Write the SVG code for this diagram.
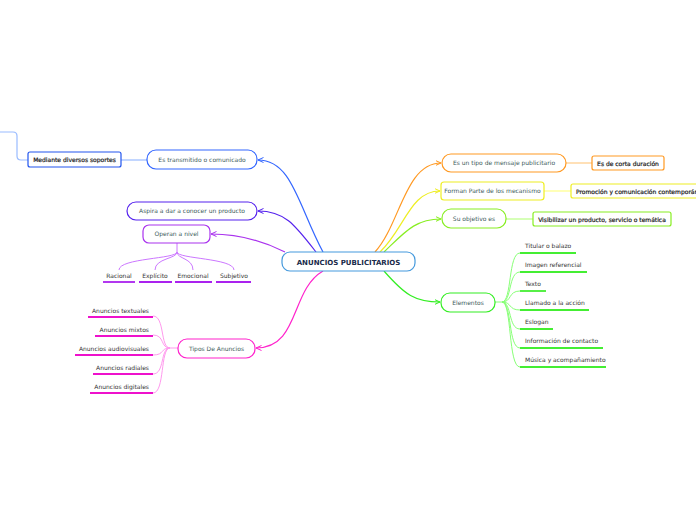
<svg xmlns="http://www.w3.org/2000/svg" width="696" height="520" viewBox="0 0 696 520">
<style>
text{font-family:"DejaVu Sans","Liberation Sans",sans-serif;font-size:6px;}
.nt{fill:#3d5b5b;text-anchor:middle;}
.ct{fill:#333;}
.bt{fill:#1a1a1a;stroke:#1a1a1a;stroke-width:0.2;text-anchor:middle;font-size:6px;}
.node{fill:#fff;stroke-width:1.2;}
.c{fill:none;stroke-width:1.2;}
.u{stroke-width:1.8;fill:none;}
</style>
<defs>
<marker id="aBlue" viewBox="0 0 6 6" refX="5.5" refY="3" markerWidth="6" markerHeight="6" markerUnits="userSpaceOnUse" orient="auto"><path d="M0,0.5 L5.5,3 L0,5.5" fill="none" stroke="#3366ff" stroke-width="1"/></marker>
<marker id="aIndigo" viewBox="0 0 6 6" refX="5.5" refY="3" markerWidth="6" markerHeight="6" markerUnits="userSpaceOnUse" orient="auto"><path d="M0,0.5 L5.5,3 L0,5.5" fill="none" stroke="#5522ee" stroke-width="1"/></marker>
<marker id="aPurple" viewBox="0 0 6 6" refX="5.5" refY="3" markerWidth="6" markerHeight="6" markerUnits="userSpaceOnUse" orient="auto"><path d="M0,0.5 L5.5,3 L0,5.5" fill="none" stroke="#aa33ee" stroke-width="1"/></marker>
<marker id="aMag" viewBox="0 0 6 6" refX="5.5" refY="3" markerWidth="6" markerHeight="6" markerUnits="userSpaceOnUse" orient="auto"><path d="M0,0.5 L5.5,3 L0,5.5" fill="none" stroke="#ff22cc" stroke-width="1"/></marker>
<marker id="aOrange" viewBox="0 0 6 6" refX="5.5" refY="3" markerWidth="6" markerHeight="6" markerUnits="userSpaceOnUse" orient="auto"><path d="M0,0.5 L5.5,3 L0,5.5" fill="none" stroke="#ff9922" stroke-width="1"/></marker>
<marker id="aYellow" viewBox="0 0 6 6" refX="5.5" refY="3" markerWidth="6" markerHeight="6" markerUnits="userSpaceOnUse" orient="auto"><path d="M0,0.5 L5.5,3 L0,5.5" fill="none" stroke="#eeee22" stroke-width="1"/></marker>
<marker id="aLime" viewBox="0 0 6 6" refX="5.5" refY="3" markerWidth="6" markerHeight="6" markerUnits="userSpaceOnUse" orient="auto"><path d="M0,0.5 L5.5,3 L0,5.5" fill="none" stroke="#88ee22" stroke-width="1"/></marker>
<marker id="aGreen" viewBox="0 0 6 6" refX="5.5" refY="3" markerWidth="6" markerHeight="6" markerUnits="userSpaceOnUse" orient="auto"><path d="M0,0.5 L5.5,3 L0,5.5" fill="none" stroke="#33ee22" stroke-width="1"/></marker>
</defs>

<g id="connectors">
<path class="c" stroke="#3366ff" d="M323,252 C298,205 292,160 258,160" marker-end="url(#aBlue)"/>
<path class="c" stroke="#5522ee" d="M316,252 C295,225 285,211 258,211" marker-end="url(#aIndigo)"/>
<path class="c" stroke="#aa33ee" d="M285,252 C265,242 240,234 211,234" marker-end="url(#aPurple)"/>
<path class="c" stroke="#ff22cc" d="M323,271 C290,290 300,348 256,348" marker-end="url(#aMag)"/>
<path class="c" stroke="#ff9922" d="M375,252 C400,225 405,163 441,163" marker-end="url(#aOrange)"/>
<path class="c" stroke="#eeee22" d="M380,252 C405,228 410,191 440,191" marker-end="url(#aYellow)"/>
<path class="c" stroke="#88ee22" d="M384,252 C405,232 415,219 441,219" marker-end="url(#aLime)"/>
<path class="c" stroke="#33ee22" d="M384,271 C405,295 415,302 440,302" marker-end="url(#aGreen)"/>
<path class="c" stroke="#99bbff" d="M121,160 L147,160"/>
<path class="c" stroke="#99bbff" d="M28,160 L21,160 Q17,160 17,156 L17,136 Q17,132 13,132 L0,132"/>
<path class="c" stroke="#ffcc88" d="M566,163 L592,163"/>
<path class="c" stroke="#ffff88" d="M544,191 L571,191"/>
<path class="c" stroke="#bbff88" d="M506,219 L533,219"/>
<g stroke="#cc77ff" fill="none" stroke-width="1">
<path d="M177,243 L177,252"/>
<path d="M177,252 C177,259 119,258 119,270"/>
<path d="M177,252 C177,259 155,258 155,270"/>
<path d="M177,252 C177,259 193,258 193,270"/>
<path d="M177,252 C177,259 234,258 234,270"/>
</g>
<g stroke="#ff99ee" fill="none" stroke-width="1">
<path d="M178,348 L170,348"/>
<path d="M170,348 C160,348 165,316 153,316"/>
<path d="M170,348 C160,348 165,335 153,335"/>
<path d="M170,348 C160,348 165,355 153,355"/>
<path d="M170,348 C160,348 165,374 153,374"/>
<path d="M170,348 C160,348 165,393 153,393"/>
</g>
<g stroke="#88ff77" fill="none" stroke-width="1">
<path d="M495,302 L502,302"/>
<path d="M502,302 C512,302 508,253 520,253"/>
<path d="M502,302 C512,302 508,272 520,272"/>
<path d="M502,302 C512,302 508,291 520,291"/>
<path d="M502,302 C512,302 508,310 520,310"/>
<path d="M502,302 C512,302 508,329 520,329"/>
<path d="M502,302 C512,302 508,348 520,348"/>
<path d="M502,302 C512,302 508,367 520,367"/>
</g>
</g>

<g id="center">
<rect class="node" x="282" y="252" width="133" height="19" rx="8" stroke="#4499dd"/>
<text x="348.5" y="264.5" style="font-size:7px;font-weight:bold;fill:#1a2a4a;text-anchor:middle">ANUNCIOS PUBLICITARIOS</text>
</g>

<g id="transmitido">
<rect class="node" x="147" y="150" width="110" height="19" rx="9" stroke="#3366ff"/>
<text class="nt" x="202" y="161.5">Es transmitido o comunicado</text>
</g>
<g id="mediante">
<rect class="node" x="28" y="152" width="93" height="15" rx="2" stroke="#2255ee" stroke-width="2"/>
<text class="bt" x="74.5" y="162">Mediante diversos soportes</text>
</g>
<g id="aspira">
<rect class="node" x="127" y="202" width="130" height="18" rx="9" stroke="#5522ee"/>
<text class="nt" x="192" y="213">Aspira a dar a conocer un producto</text>
</g>
<g id="operan">
<rect class="node" x="143" y="225" width="67" height="18" rx="6" stroke="#aa33ee"/>
<text class="nt" x="176.5" y="236">Operan a nivel</text>
</g>
<g id="racional"><text class="ct" x="119" y="278" text-anchor="middle">Racional</text><line class="u" x1="103" y1="282" x2="135" y2="282" stroke="#aa22ee"/></g>
<g id="explicito"><text class="ct" x="155" y="278" text-anchor="middle">Explícito</text><line class="u" x1="139" y1="282" x2="172" y2="282" stroke="#aa22ee"/></g>
<g id="emocional"><text class="ct" x="193" y="278" text-anchor="middle">Emocional</text><line class="u" x1="175" y1="282" x2="212" y2="282" stroke="#aa22ee"/></g>
<g id="subjetivo"><text class="ct" x="234" y="278" text-anchor="middle">Subjetivo</text><line class="u" x1="216" y1="282" x2="251" y2="282" stroke="#aa22ee"/></g>

<g id="tipos">
<rect class="node" x="178" y="339" width="77" height="19" rx="9" stroke="#ff22cc"/>
<text class="nt" x="216.5" y="350.5">Tipos De Anuncios</text>
</g>
<g id="textuales"><text class="ct" x="149" y="313" text-anchor="end">Anuncios textuales</text><line class="u" x1="88" y1="317" x2="153" y2="317" stroke="#ee11cc"/></g>
<g id="mixtos"><text class="ct" x="149" y="332" text-anchor="end">Anuncios mixtos</text><line class="u" x1="95" y1="336" x2="153" y2="336" stroke="#ee11cc"/></g>
<g id="audiovisuales"><text class="ct" x="149" y="351" text-anchor="end">Anuncios audiovisuales</text><line class="u" x1="75" y1="355" x2="153" y2="355" stroke="#ee11cc"/></g>
<g id="radiales"><text class="ct" x="149" y="370" text-anchor="end">Anuncios radiales</text><line class="u" x1="93" y1="374" x2="153" y2="374" stroke="#ee11cc"/></g>
<g id="digitales"><text class="ct" x="149" y="389" text-anchor="end">Anuncios digitales</text><line class="u" x1="90" y1="393" x2="153" y2="393" stroke="#ee11cc"/></g>

<g id="tipoMensaje">
<rect class="node" x="442" y="154" width="124" height="18" rx="9" stroke="#ff9922"/>
<text class="nt" x="504" y="165">Es un tipo de mensaje publicitario</text>
</g>
<g id="corta">
<rect class="node" x="592" y="156" width="72" height="14" rx="2" stroke="#ff9922" stroke-width="2"/>
<text class="bt" x="628" y="165.5">Es de corta duración</text>
</g>
<g id="forman">
<rect class="node" x="441" y="182" width="103" height="18" rx="3" stroke="#eeee22"/>
<text class="nt" x="492.5" y="193">Forman Parte de los mecanismo</text>
</g>
<g id="promocion">
<rect class="node" x="571" y="184" width="140" height="14" rx="2" stroke="#eeee22" stroke-width="2"/>
<text class="bt" x="576" y="193.5" style="text-anchor:start">Promoción y comunicación contemporánea</text>
</g>
<g id="objetivo">
<rect class="node" x="442" y="209" width="64" height="19" rx="9" stroke="#88ee22"/>
<text class="nt" x="474" y="220.5">Su objetivo es</text>
</g>
<g id="visibilizar">
<rect class="node" x="533" y="212" width="138" height="14" rx="2" stroke="#88ee22" stroke-width="2"/>
<text class="bt" x="602" y="221.5">Visibilizar un producto, servicio o temática</text>
</g>
<g id="elementos">
<rect class="node" x="441" y="293" width="54" height="19" rx="9" stroke="#33ee22"/>
<text class="nt" x="468" y="304.5">Elementos</text>
</g>
<g id="titular"><text class="ct" x="525" y="248">Titular o balazo</text><line class="u" x1="520" y1="253" x2="576" y2="253" stroke="#44ee33"/></g>
<g id="imagen"><text class="ct" x="525" y="267">Imagen referencial</text><line class="u" x1="520" y1="272" x2="587" y2="272" stroke="#44ee33"/></g>
<g id="texto"><text class="ct" x="525" y="286">Texto</text><line class="u" x1="520" y1="291" x2="546" y2="291" stroke="#44ee33"/></g>
<g id="llamado"><text class="ct" x="525" y="305">Llamado a la acción</text><line class="u" x1="520" y1="310" x2="589" y2="310" stroke="#44ee33"/></g>
<g id="eslogan"><text class="ct" x="525" y="324">Eslogan</text><line class="u" x1="520" y1="329" x2="553" y2="329" stroke="#44ee33"/></g>
<g id="informacion"><text class="ct" x="525" y="343">Información de contacto</text><line class="u" x1="520" y1="348" x2="603" y2="348" stroke="#44ee33"/></g>
<g id="musica"><text class="ct" x="525" y="362">Música y acompañamiento</text><line class="u" x1="520" y1="367" x2="606" y2="367" stroke="#44ee33"/></g>
</svg>
